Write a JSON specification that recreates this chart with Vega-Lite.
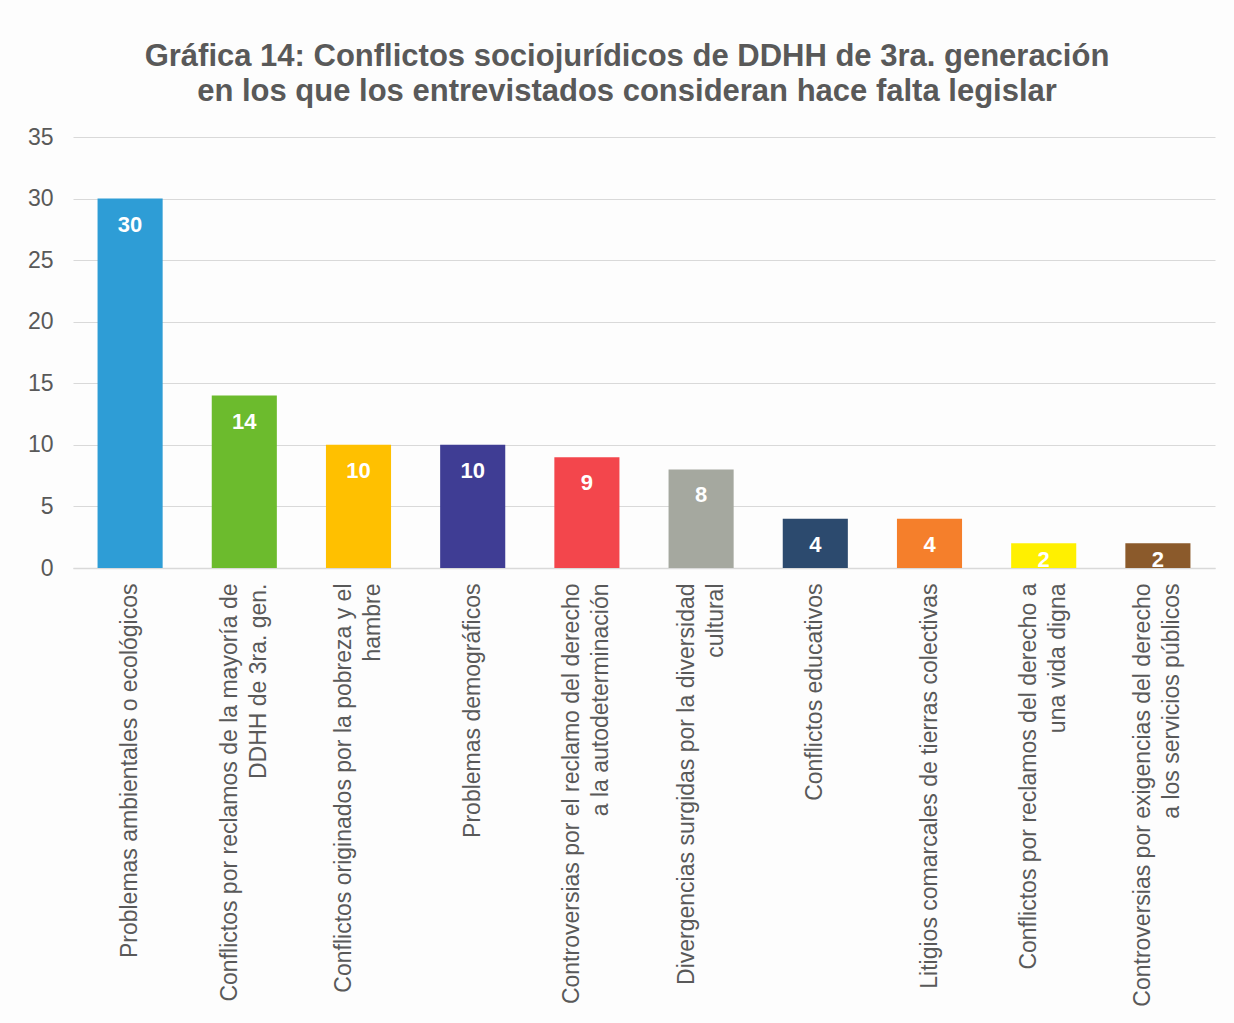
{
  "$schema": "https://vega.github.io/schema/vega-lite/v6.json",
  "autosize": "none",
  "width": 1142,
  "height": 431,
  "padding": {"left": 73, "top": 137, "right": 19, "bottom": 455},
  "background": "#fdfdfd",
  "config": {"view": {"stroke": null}},
  "title": {
    "text": ["Gráfica 14: Conflictos sociojurídicos de DDHH de 3ra. generación", "en los que los entrevistados consideran hace falta legislar"],
    "font": "Liberation Sans",
    "fontSize": 31,
    "fontWeight": "bold",
    "color": "#595959",
    "lineHeight": 35,
    "anchor": "middle",
    "dx": -17,
    "offset": 18
  },
  "data": {
    "values": [
      {"categoria": "Problemas ambientales o ecológicos", "valor": 30, "color": "c1"},
      {"categoria": "Conflictos por reclamos de la mayoría de\nDDHH de 3ra. gen.", "valor": 14, "color": "c2"},
      {"categoria": "Conflictos originados por la pobreza y el\nhambre", "valor": 10, "color": "c3"},
      {"categoria": "Problemas demográficos", "valor": 10, "color": "c4"},
      {"categoria": "Controversias por el reclamo del derecho\na la autodeterminación", "valor": 9, "color": "c5"},
      {"categoria": "Divergencias surgidas por la diversidad\ncultural", "valor": 8, "color": "c6"},
      {"categoria": "Conflictos educativos", "valor": 4, "color": "c7"},
      {"categoria": "Litigios comarcales de tierras colectivas", "valor": 4, "color": "c8"},
      {"categoria": "Conflictos por reclamos del derecho a\nuna vida digna", "valor": 2, "color": "c9"},
      {"categoria": "Controversias por exigencias del derecho\na los servicios públicos", "valor": 2, "color": "c10"}
    ]
  },
  "encoding": {
    "x": {
      "field": "categoria",
      "type": "nominal",
      "sort": null,
      "scale": {"paddingInner": 0.43, "paddingOuter": 0.215},
      "axis": {
        "title": null,
        "labelAngle": -90,
        "labelAlign": "right",
        "labelBaseline": "middle",
        "labelPadding": 15,
        "labelOffset": {"condition": {"test": "indexof(datum.label, '\\n') >= 0", "value": -14.5}, "value": 0},
        "labelFont": "Liberation Sans",
        "labelFontSize": 23,
        "labelColor": "#595959",
        "labelLineHeight": 29,
        "labelLimit": 600,
        "labelExpr": "split(datum.label, '\\n')",
        "ticks": false,
        "domainColor": "#d9d9d9",
        "domainWidth": 1.5,
        "grid": false
      }
    },
    "y": {
      "field": "valor",
      "type": "quantitative",
      "scale": {"domain": [0, 35]},
      "axis": {
        "title": null,
        "values": [0, 5, 10, 15, 20, 25, 30, 35],
        "labelFont": "Liberation Sans",
        "labelFontSize": 23,
        "labelColor": "#595959",
        "labelPadding": 20,
        "ticks": false,
        "domain": false,
        "gridColor": "#d9d9d9",
        "gridWidth": 1.2
      }
    }
  },
  "layer": [
    {
      "mark": {"type": "bar"},
      "encoding": {
        "color": {
          "field": "color",
          "type": "nominal",
          "legend": null,
          "scale": {
            "domain": ["c1", "c2", "c3", "c4", "c5", "c6", "c7", "c8", "c9", "c10"],
            "range": ["#2e9dd6", "#6cbb2d", "#ffc000", "#3f3d94", "#f3464c", "#a5a89f", "#2c4a6e", "#f57f2b", "#fff000", "#8b5a2b"]
          }
        }
      }
    },
    {
      "transform": [{"filter": "datum.valor >= 4"}],
      "mark": {"type": "text", "baseline": "middle", "dy": 26, "fill": "white", "font": "Liberation Sans", "fontSize": 22, "fontWeight": "bold"},
      "encoding": {"text": {"field": "valor", "type": "quantitative"}}
    },
    {
      "transform": [{"filter": "datum.valor < 4"}],
      "mark": {"type": "text", "baseline": "alphabetic", "dy": -1, "fill": "white", "font": "Liberation Sans", "fontSize": 22, "fontWeight": "bold"},
      "encoding": {"text": {"field": "valor", "type": "quantitative"}, "y": {"datum": 0}}
    }
  ]
}
